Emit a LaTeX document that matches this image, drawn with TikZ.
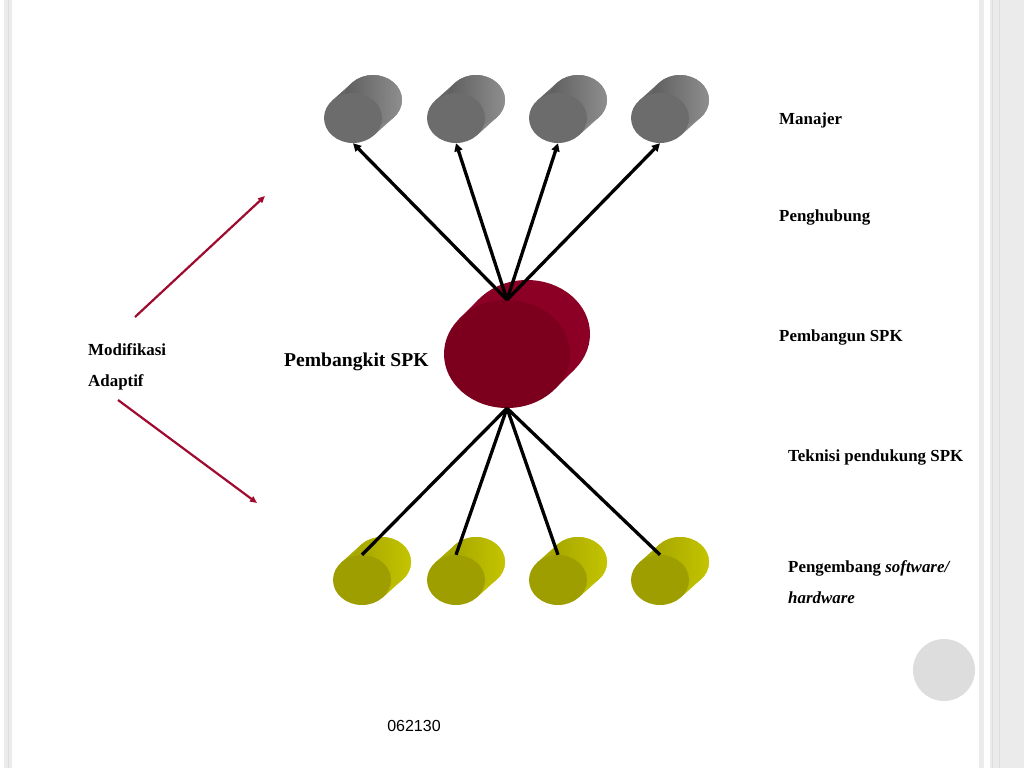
\documentclass[tikz,border=0pt]{standalone}
\usepackage{fontspec}
\setmainfont{Liberation Serif}
\newfontfamily\lsans{Liberation Sans}
\usetikzlibrary{shapes.geometric,arrows.meta}
\definecolor{gfront}{HTML}{6C6C6C}
\definecolor{gdark}{HTML}{5E5E5E}
\definecolor{glight}{HTML}{8E8E8E}
\definecolor{yfront}{HTML}{9E9E00}
\definecolor{ydark}{HTML}{A4A400}
\definecolor{ylight}{HTML}{C4C400}
\definecolor{rfront}{HTML}{7C001E}
\definecolor{rback}{HTML}{8C0026}
\definecolor{redarrow}{HTML}{A00A2E}
\definecolor{stripe}{HTML}{EBEBEB}
\definecolor{stripeline}{HTML}{DDDDDD}
\definecolor{dot}{HTML}{DDDDDD}
\tikzset{
  cylface/.style={ellipse, minimum width=58pt, minimum height=50pt, inner sep=0pt, draw=none},
  genface/.style={ellipse, minimum width=126pt, minimum height=108pt, inner sep=0pt, draw=none},
  conn/.style={line width=3.3pt, black},
  connhead/.style={-{Triangle[length=8pt,width=8pt]}},
  modarrow/.style={line width=2.2pt, redarrow, -{Triangle[length=7pt,width=6pt]}},
  lbl/.style={font=\bfseries\fontsize{16.9}{20}\selectfont, anchor=base west, inner sep=0pt},
}
% cylinder: #1 name, #2 x, #3 y (front centre, pixels), #4 front colour, #5 dark body, #6 light body
\newcommand\mycyl[6]{%
  \node[cylface, fill=#6] (#1back) at ({#2+20},{#3-18}) {};
  \shade[left color=#5, right color=#6]
    ({#2+20.9},{#3+17.3}) -- ({#2+40.9},{#3-0.7}) -- ({#2-0.9},{#3-35.3}) -- ({#2-20.9},{#3-17.3}) -- cycle;
  \shade[left color=#5, right color=#6] ({#2+20},{#3-18}) ellipse[x radius=29, y radius=-25];
  \node[cylface, fill=#4] (#1) at (#2,#3) {};
}
\begin{document}
\begin{tikzpicture}[x=1pt,y=-1pt]
\useasboundingbox (0,0) rectangle (1024,768);
\fill[white] (0,0) rectangle (1024,768);
% slide borders
\fill[stripe] (4,0) rectangle (12,768);
\draw[stripeline, line width=0.8pt] (8,0) -- (8,768);
\fill[stripe] (979,0) rectangle (984,768);
\fill[stripe] (990,0) rectangle (1024,768);
\draw[stripeline, line width=0.8pt] (992,0) -- (992,768);
\draw[stripeline, line width=0.8pt] (999,0) -- (999,768);
\fill[dot] (944,670) circle[radius=31];

% top cylinders (grey)
\mycyl{m1}{353}{118}{gfront}{gdark}{glight}
\mycyl{m2}{456}{118}{gfront}{gdark}{glight}
\mycyl{m3}{558}{118}{gfront}{gdark}{glight}
\mycyl{m4}{660}{118}{gfront}{gdark}{glight}

% bottom cylinders (yellow)
\mycyl{s1}{362}{580}{yfront}{ydark}{ylight}
\mycyl{s2}{456}{580}{yfront}{ydark}{ylight}
\mycyl{s3}{558}{580}{yfront}{ydark}{ylight}
\mycyl{s4}{660}{580}{yfront}{ydark}{ylight}

% central generator
\node[genface, fill=rback] (genback) at (527,334) {};
\fill[rback] (554.8,389.1) -- (574.8,369.1) -- (479.2,298.9) -- (459.2,318.9) -- cycle;
\node[genface, fill=rfront] (gen) at (507,354) {};

% connectors
\foreach \t in {m1,m2,m3,m4}
  \draw[conn, connhead] (gen.north) -- (\t.south);
\foreach \t in {s1,s2,s3,s4}
  \draw[conn] (\t.north) -- (gen.south);

% adaptive modification arrows
\coordinate (a1s) at (135,317);
\coordinate (a1e) at (265,196);
\coordinate (a2s) at (118,400);
\coordinate (a2e) at (257,503);
\draw[modarrow] (a1s) -- (a1e);
\draw[modarrow] (a2s) -- (a2e);

% labels
\node[lbl] (tmod) at (88,355) {Modifikasi};
\node[lbl] (tada) at (88,386) {Adaptif};
\node[lbl, font=\bfseries\fontsize{19.6}{23}\selectfont] (tgen) at (284,366) {Pembangkit SPK};
\node[lbl] (tman) at (779,124) {Manajer};
\node[lbl] (tpen) at (779,221) {Penghubung};
\node[lbl] (tpem) at (779,341) {Pembangun SPK};
\node[lbl] (ttek) at (788,461) {Teknisi pendukung SPK};
\node[lbl] (tpg1) at (788,572) {Pengembang \textit{software/}};
\node[lbl] (tpg2) at (788,603) {\textit{hardware}};
\node[anchor=base, inner sep=0pt, font=\lsans\fontsize{16}{19}\selectfont] (tnum) at (414,731) {062130};
\end{tikzpicture}
\end{document}
